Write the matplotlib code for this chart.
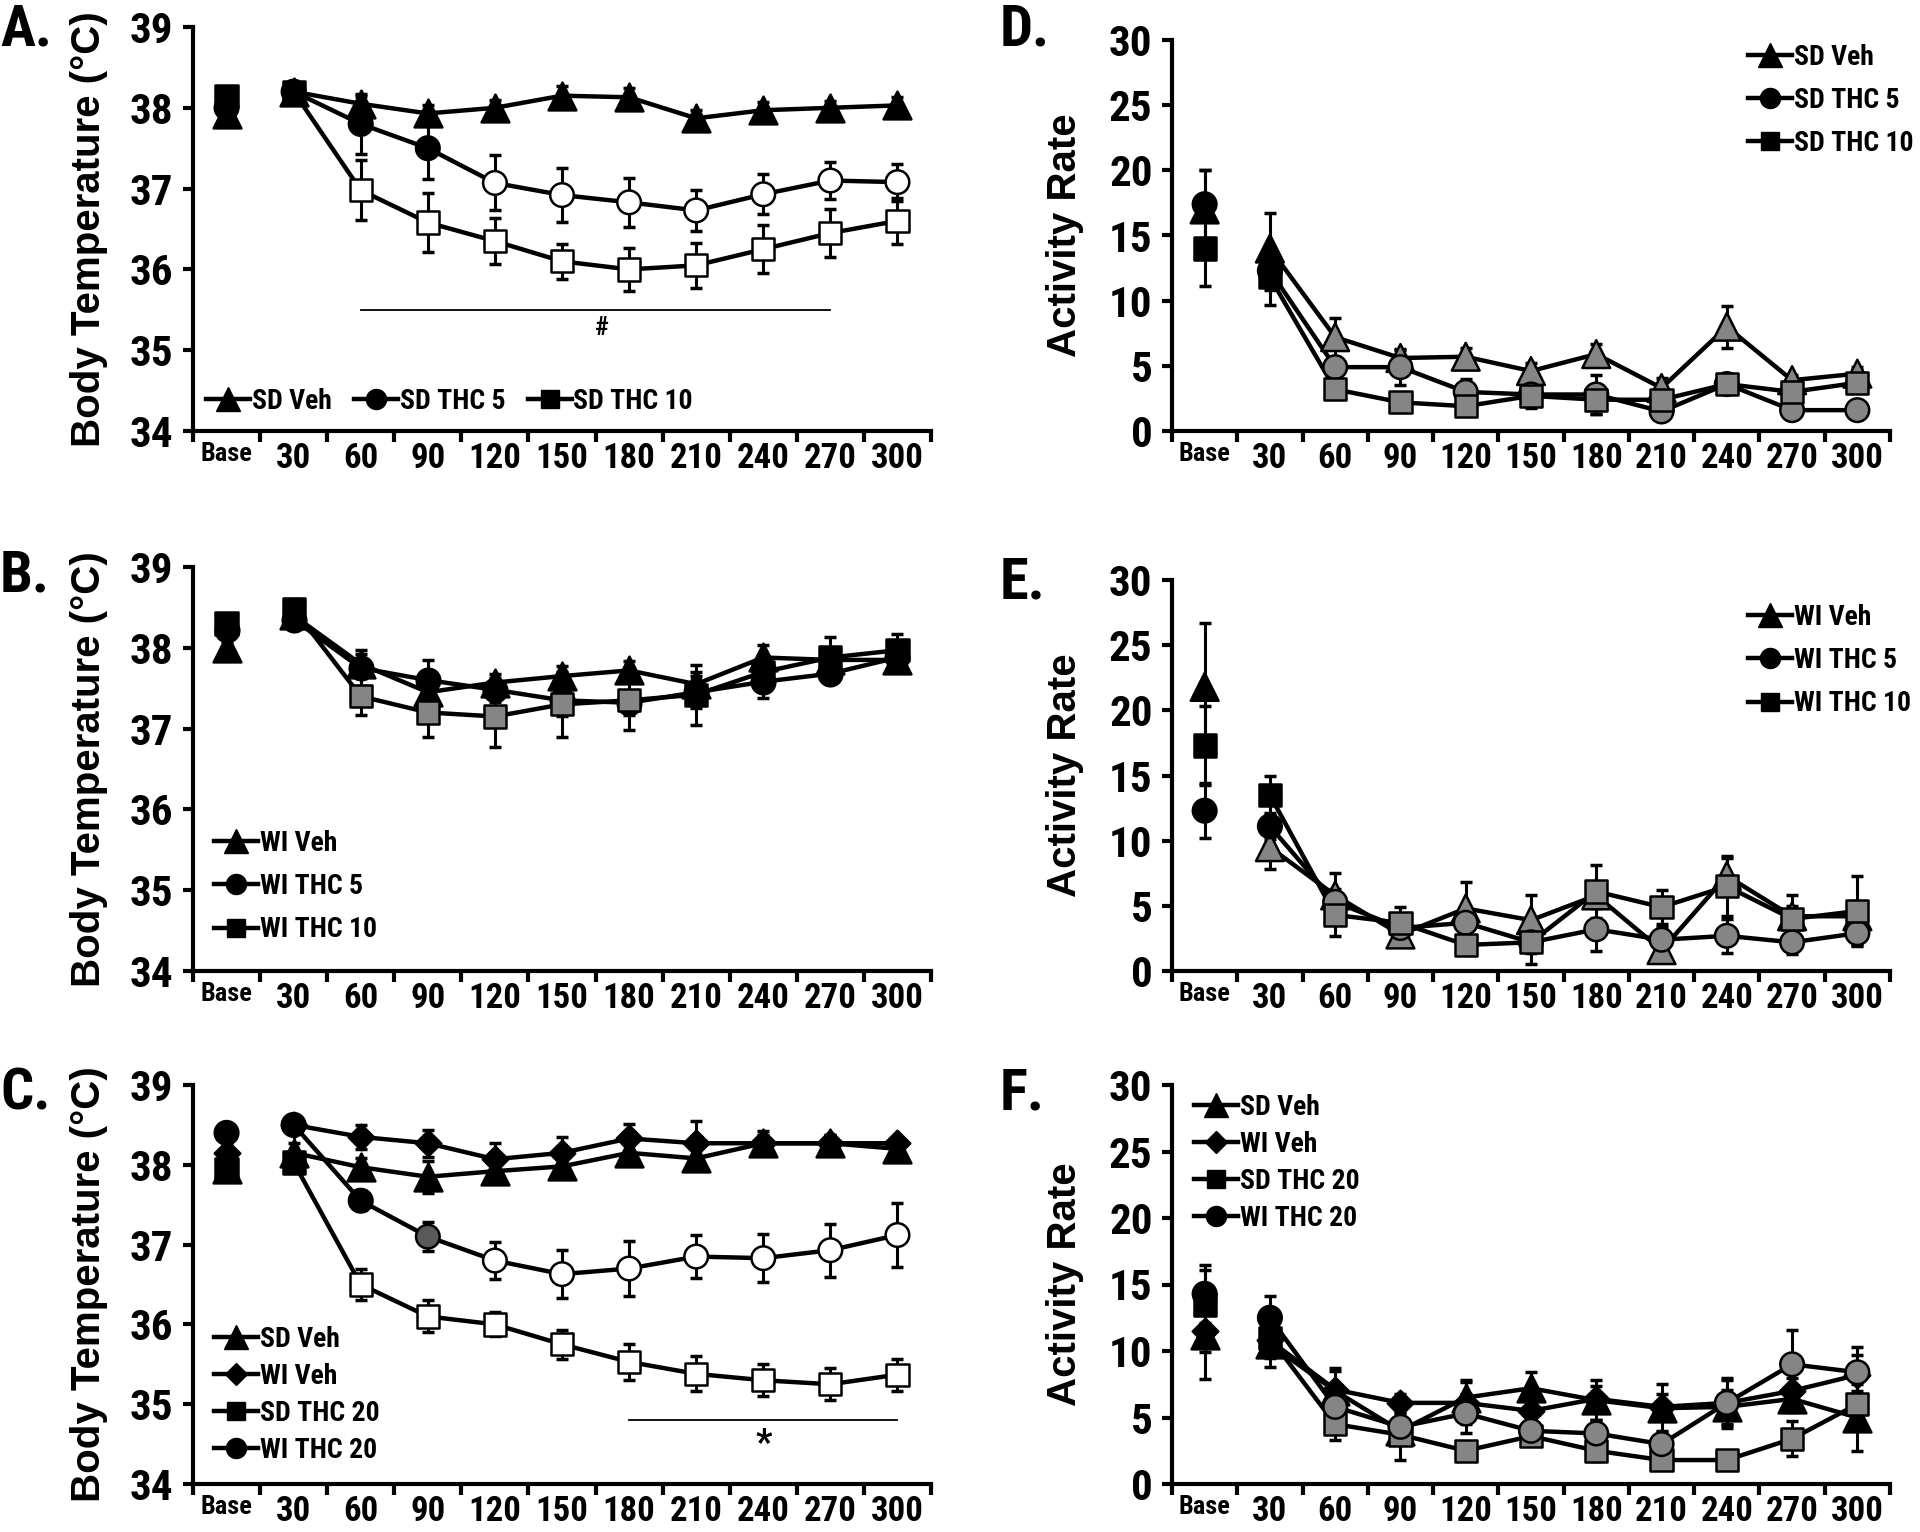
import numpy as np
import matplotlib
matplotlib.use('Agg')
import matplotlib.pyplot as plt
from matplotlib import font_manager
from matplotlib.font_manager import FontProperties
from matplotlib.lines import Line2D

times = ['Base', '30', '60', '90', '120', '150', '180', '210', '240', '270', '300']

# A. SD body temperature
a_veh = [37.92, 38.2, 38.05, 37.93, 38.0, 38.15, 38.13, 37.87, 37.97, 38.0, 38.03]
a_veh_err = [0.1, 0.05, 0.1, 0.1, 0.1, 0.12, 0.12, 0.1, 0.1, 0.08, 0.1]
a_thc5 = [38.0, 38.2, 37.8, 37.5, 37.07, 36.92, 36.83, 36.73, 36.93, 37.1, 37.08]
a_thc5_err = [0.1, 0.05, 0.37, 0.38, 0.34, 0.33, 0.3, 0.25, 0.25, 0.23, 0.23]
a_thc10 = [38.15, 38.2, 36.98, 36.58, 36.35, 36.1, 36.0, 36.05, 36.25, 36.45, 36.6]
a_thc10_err = [0.1, 0.05, 0.37, 0.37, 0.28, 0.22, 0.27, 0.28, 0.3, 0.3, 0.28]

# B. WI body temperature
b_veh = [38.0, 38.4, 37.8, 37.45, 37.57, 37.65, 37.72, 37.55, 37.88, 37.85, 37.85]
b_veh_err = [0.1, 0.1, 0.12, 0.15, 0.1, 0.12, 0.12, 0.15, 0.15, 0.12, 0.12]
b_thc5 = [38.22, 38.35, 37.75, 37.6, 37.48, 37.35, 37.32, 37.45, 37.58, 37.68, 37.88]
b_thc5_err = [0.15, 0.1, 0.22, 0.25, 0.15, 0.2, 0.15, 0.2, 0.2, 0.12, 0.12]
b_thc10 = [38.3, 38.48, 37.4, 37.2, 37.15, 37.3, 37.35, 37.42, 37.7, 37.88, 37.97]
b_thc10_err = [0.12, 0.12, 0.23, 0.3, 0.38, 0.4, 0.37, 0.37, 0.2, 0.25, 0.2]

# C. THC 20 body temperature
c_sd_veh = [37.95, 38.15, 37.97, 37.85, 37.92, 37.98, 38.15, 38.08, 38.27, 38.27, 38.2]
c_sd_veh_err = [0.1, 0.12, 0.12, 0.2, 0.1, 0.1, 0.1, 0.12, 0.1, 0.1, 0.1]
c_wi_veh = [38.15, 38.5, 38.35, 38.27, 38.07, 38.15, 38.33, 38.27, 38.27, 38.27, 38.27]
c_wi_veh_err = [0.1, 0.1, 0.15, 0.17, 0.2, 0.2, 0.18, 0.28, 0.15, 0.1, 0.08]
c_sd_thc = [37.95, 38.03, 36.5, 36.1, 36.0, 35.75, 35.53, 35.38, 35.3, 35.25, 35.37]
c_sd_thc_err = [0.1, 0.1, 0.2, 0.2, 0.15, 0.18, 0.23, 0.22, 0.2, 0.2, 0.2]
c_wi_thc = [38.4, 38.5, 37.55, 37.1, 36.8, 36.63, 36.7, 36.85, 36.83, 36.93, 37.12]
c_wi_thc_err = [0.1, 0.1, 0.12, 0.18, 0.23, 0.3, 0.35, 0.27, 0.3, 0.33, 0.4]

# D. SD activity
d_veh = [17.0, 14.0, 7.2, 5.6, 5.7, 4.6, 5.9, 3.3, 8.0, 3.9, 4.4]
d_veh_err = [3.0, 2.7, 1.5, 0.6, 0.7, 0.6, 0.8, 0.8, 1.6, 0.4, 0.5]
d_thc5 = [17.4, 12.3, 4.9, 4.9, 3.0, 2.8, 2.8, 1.5, 3.6, 1.6, 1.6]
d_thc5_err = [2.6, 1.5, 0.8, 1.4, 1.0, 0.7, 1.5, 0.5, 0.5, 0.3, 0.3]
d_thc10 = [14.0, 11.8, 3.2, 2.2, 1.9, 2.7, 2.4, 2.4, 3.6, 3.0, 3.7]
d_thc10_err = [2.9, 2.1, 0.5, 0.5, 0.5, 0.9, 1.1, 0.6, 0.6, 0.6, 0.6]

# E. WI activity
e_veh = [21.8, 9.5, 5.8, 2.8, 4.8, 3.9, 5.8, 1.6, 7.3, 4.2, 4.2]
e_veh_err = [4.9, 1.7, 1.7, 0.6, 2.0, 1.9, 1.0, 0.9, 1.4, 0.8, 1.2]
e_thc5 = [12.3, 11.1, 5.3, 3.3, 3.7, 2.2, 3.2, 2.4, 2.7, 2.2, 2.9]
e_thc5_err = [2.1, 1.0, 1.0, 0.8, 1.0, 0.8, 1.7, 1.0, 1.3, 0.9, 0.9]
e_thc10 = [17.3, 13.5, 4.3, 3.7, 2.0, 2.2, 6.1, 4.9, 6.5, 4.0, 4.6]
e_thc10_err = [3.0, 1.5, 1.6, 1.2, 0.5, 1.7, 2.0, 1.3, 2.3, 1.8, 2.7]

# F. THC 20 activity
f_sd_veh = [11.2, 10.5, 7.0, 4.0, 6.5, 7.2, 6.3, 5.7, 5.8, 6.4, 5.0]
f_sd_veh_err = [3.3, 1.7, 1.5, 1.0, 1.3, 1.2, 1.5, 1.8, 1.3, 1.0, 2.5]
f_wi_veh = [11.5, 10.8, 7.1, 6.1, 6.1, 5.5, 6.4, 5.8, 6.1, 7.0, 8.2]
f_wi_veh_err = [1.6, 1.0, 1.6, 0.7, 1.6, 1.2, 1.0, 1.0, 1.7, 1.0, 1.5]
f_sd_thc = [13.5, 11.0, 4.5, 3.7, 2.5, 3.6, 2.5, 1.8, 1.8, 3.4, 6.0]
f_sd_thc_err = [2.6, 1.5, 1.2, 1.9, 0.6, 0.5, 0.8, 0.5, 0.5, 1.3, 1.0]
f_wi_thc = [14.3, 12.5, 5.8, 4.3, 5.3, 4.0, 3.8, 3.0, 6.1, 9.0, 8.4]
f_wi_thc_err = [2.2, 1.6, 1.3, 1.0, 1.5, 0.8, 1.0, 1.0, 1.9, 2.6, 1.9]

GRAY = '#858585'
MS = {'^': 20, 'o': 17, 's': 16, 'D': 13}


def _is_bold(f):
    w = f.weight
    return (isinstance(w, (int, float)) and w >= 600) or str(w).lower() in ('bold', 'heavy', 'black', 'semibold', 'demibold')


def find_narrow_bold():
    # look for an installed condensed / narrow bold face (Arial Narrow look-alike)
    prefs = ['liberation sans narrow', 'arial narrow', 'roboto condensed',
             'open sans condensed', 'noto sans', 'dejavu sans', 'roboto', 'open sans']
    best = None
    for f in font_manager.fontManager.ttflist:
        n = f.name.lower()
        st = str(f.stretch).lower()
        narrow = ('narrow' in n or 'condensed' in n or st in ('condensed', 'semi-condensed'))
        if not narrow or not _is_bold(f) or str(f.style) != 'normal':
            continue
        if 'extra' in st or 'ultra' in st or 'extra' in n or 'ultra' in n:
            continue
        rank = next((i for i, p in enumerate(prefs) if p in n), len(prefs))
        if st == 'semi-condensed' or 'semi' in n:
            rank += 0.5
        if best is None or rank < best[0]:
            best = (rank, f.fname)
    return best[1] if best else None


NARROW_FILE = find_narrow_bold()


def nfont(size):
    if NARROW_FILE:
        return FontProperties(fname=NARROW_FILE, size=size)
    return FontProperties(family='Liberation Sans', weight='bold', size=size * 0.85)


def fills(n_black, rest, mid=None):
    # first n_black points filled black, then optional mid colour, then rest
    out = ['k'] * n_black
    if mid is not None:
        out.append(mid)
    return out + [rest] * (len(times) - len(out))


W, H = 1920, 1532
fig = plt.figure(figsize=(W / 100, H / 100), dpi=100)


def make_ax(l, r, t, b):
    return fig.add_axes([l / W, 1 - b / H, (r - l) / W, (b - t) / H])


def series(ax, y, err, marker, fc):
    x = np.arange(len(times))
    y = np.asarray(y)
    ax.plot(x[1:], y[1:], color='k', lw=3.2, zorder=2)
    ax.errorbar(x, y, yerr=err, fmt='none', ecolor='k', elinewidth=2.2,
                capsize=4, capthick=2.5, zorder=2)
    ms = MS[marker]
    ax.scatter(x, y, s=ms ** 2, marker=marker, c=fc, edgecolors='k',
               linewidths=1.8, zorder=3)


def style(ax, ylim, yticks, ylabel):
    ax.set_xlim(-0.5, 10.5)
    ax.set_ylim(*ylim)
    for s in ['top', 'right']:
        ax.spines[s].set_visible(False)
    for s in ['left', 'bottom']:
        ax.spines[s].set_linewidth(3)
    ax.set_yticks(yticks)
    ax.set_yticklabels([str(v) for v in yticks], fontproperties=nfont(31))
    ax.tick_params(axis='y', length=7, width=3, pad=7)
    ax.set_xticks(np.arange(len(times)))
    ax.set_xticklabels(times, fontproperties=nfont(25))
    ax.get_xticklabels()[0].set_fontproperties(nfont(19))
    ax.tick_params(axis='x', which='major', length=0, pad=8)
    ax.set_xticks(np.arange(-0.5, 11, 1), minor=True)
    ax.tick_params(axis='x', which='minor', length=8, width=3)
    ax.set_ylabel(ylabel, fontfamily='Liberation Sans', fontweight='bold', fontsize=29)


def legend(ax, handles, labels, x, y, ncol=1, spacing=0.5):
    ax.legend(handles, labels, loc='upper left', bbox_to_anchor=(x / W, 1 - y / H),
              bbox_transform=fig.transFigure, ncol=ncol, frameon=False,
              handlelength=1.6, handletextpad=0.05, columnspacing=0.8,
              labelspacing=spacing, borderaxespad=0, borderpad=0,
              prop=nfont(20))


def handle(marker):
    return Line2D([], [], color='k', lw=3.2, marker=marker, markersize=MS[marker] * 0.85,
                  markerfacecolor='k', markeredgecolor='k')


temp_ticks = [34, 35, 36, 37, 38, 39]
act_ticks = [0, 5, 10, 15, 20, 25, 30]

# ---- A
axA = make_ax(193, 931, 27, 431)
series(axA, a_veh, a_veh_err, '^', 'k')
series(axA, a_thc5, a_thc5_err, 'o', fills(4, 'w'))
series(axA, a_thc10, a_thc10_err, 's', fills(2, 'w'))
style(axA, (34, 39), temp_ticks, 'Body Temperature (°C)')
axA.plot([2, 9], [35.5, 35.5], color='k', lw=1.3)
axA.text(5.6, 35.27, '#', ha='center', va='center', fontproperties=nfont(19))
legend(axA, [handle('^'), handle('o'), handle('s')], ['SD Veh', 'SD THC 5', 'SD THC 10'],
       206, 388, ncol=3)

# ---- B
axB = make_ax(193, 931, 567, 971)
series(axB, b_veh, b_veh_err, '^', 'k')
series(axB, b_thc5, b_thc5_err, 'o', 'k')
series(axB, b_thc10, b_thc10_err, 's', ['k', 'k'] + [GRAY] * 5 + ['k'] * 4)
style(axB, (34, 39), temp_ticks, 'Body Temperature (°C)')
legend(axB, [handle('^'), handle('o'), handle('s')], ['WI Veh', 'WI THC 5', 'WI THC 10'],
       214, 830, spacing=0.58)

# ---- C
axC = make_ax(193, 931, 1085, 1484)
series(axC, c_sd_veh, c_sd_veh_err, '^', 'k')
series(axC, c_wi_veh, c_wi_veh_err, 'D', 'k')
series(axC, c_sd_thc, c_sd_thc_err, 's', fills(2, 'w'))
series(axC, c_wi_thc, c_wi_thc_err, 'o', fills(3, 'w', mid='#5a5a5a'))
style(axC, (34, 39), temp_ticks, 'Body Temperature (°C)')
axC.plot([6, 10], [34.8, 34.8], color='k', lw=1.3)
axC.text(8, 34.5, '*', ha='center', va='center', fontproperties=nfont(26))
legend(axC, [handle('^'), handle('D'), handle('s'), handle('o')],
       ['SD Veh', 'WI Veh', 'SD THC 20', 'WI THC 20'], 214, 1326, spacing=0.36)

# ---- D
axD = make_ax(1172, 1890, 40, 431)
series(axD, d_veh, d_veh_err, '^', fills(2, GRAY))
series(axD, d_thc5, d_thc5_err, 'o', fills(2, GRAY))
series(axD, d_thc10, d_thc10_err, 's', fills(2, GRAY))
style(axD, (0, 30), act_ticks, 'Activity Rate')
legend(axD, [handle('^'), handle('o'), handle('s')], ['SD Veh', 'SD THC 5', 'SD THC 10'],
       1748, 44, spacing=0.58)

# ---- E
axE = make_ax(1172, 1890, 580, 971)
series(axE, e_veh, e_veh_err, '^', fills(1, GRAY))
series(axE, e_thc5, e_thc5_err, 'o', fills(2, GRAY))
series(axE, e_thc10, e_thc10_err, 's', fills(2, GRAY))
style(axE, (0, 30), act_ticks, 'Activity Rate')
legend(axE, [handle('^'), handle('o'), handle('s')], ['WI Veh', 'WI THC 5', 'WI THC 10'],
       1748, 604, spacing=0.58)

# ---- F
axF = make_ax(1172, 1890, 1085, 1484)
series(axF, f_sd_veh, f_sd_veh_err, '^', 'k')
series(axF, f_wi_veh, f_wi_veh_err, 'D', 'k')
series(axF, f_sd_thc, f_sd_thc_err, 's', fills(2, GRAY))
series(axF, f_wi_thc, f_wi_thc_err, 'o', fills(2, GRAY))
style(axF, (0, 30), act_ticks, 'Activity Rate')
legend(axF, [handle('^'), handle('D'), handle('s'), handle('o')],
       ['SD Veh', 'WI Veh', 'SD THC 20', 'WI THC 20'], 1194, 1094, spacing=0.36)

for ax in [axA, axB, axC]:
    ax.yaxis.set_label_coords((108 - 193) / (931 - 193), 0.5)
for ax in [axD, axE, axF]:
    ax.yaxis.set_label_coords((1084 - 1172) / (1890 - 1172), 0.5)

for lab, x, y in [('A.', 0, 2), ('B.', 0, 548), ('C.', 0, 1066),
                  ('D.', 1000, 2), ('E.', 1000, 556), ('F.', 1000, 1066)]:
    fig.text(x / W, 1 - y / H, lab, ha='left', va='top', fontproperties=nfont(42))

fig.savefig('out.png', dpi=100, facecolor='white')
